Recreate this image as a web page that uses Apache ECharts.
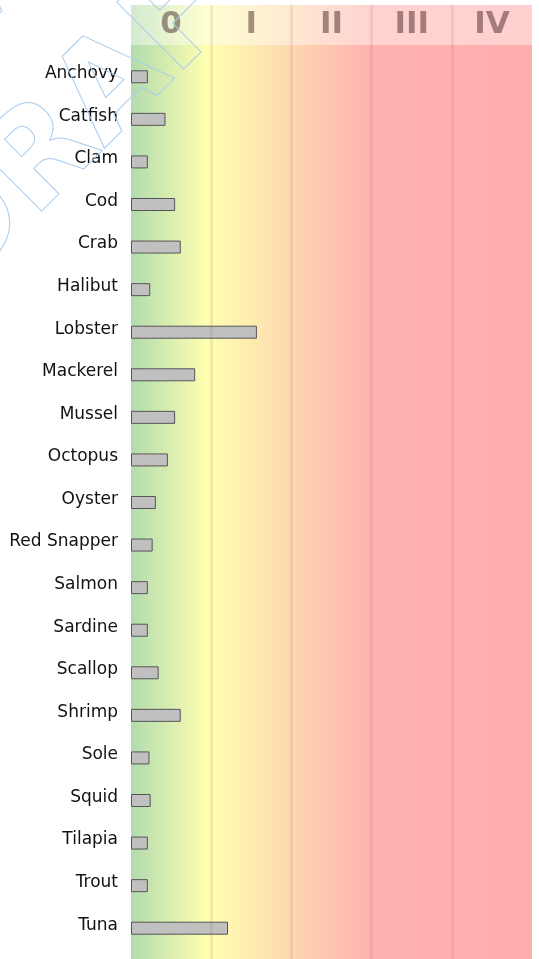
<!DOCTYPE html>
<html>
<head>
<meta charset="utf-8">
<script src="https://cdn.jsdelivr.net/npm/echarts@6/dist/echarts.min.js"></script>
<style>html,body{margin:0;padding:0;background:#fff}#c{width:539px;height:959px}</style>
</head>
<body>
<div id="c"></div>
<script>
const categories = ['Anchovy','Catfish','Clam','Cod','Crab','Halibut','Lobster','Mackerel','Mussel','Octopus','Oyster','Red Snapper','Salmon','Sardine','Scallop','Shrimp','Sole','Squid','Tilapia','Trout','Tuna'];
const values = [0.21,0.43,0.21,0.55,0.62,0.24,1.57,0.80,0.55,0.46,0.31,0.27,0.21,0.21,0.345,0.62,0.23,0.245,0.21,0.21,1.21];
const bandLabels = ['0','I','II','III','IV'];
const bandEdges = [1,2,3,4];
const axisMax = 5;

const chart = echarts.init(document.getElementById('c'), null, {renderer:'canvas'});
const L = 131, R = 7, TOP = 5, HEADER = 40, H = 959;
const headerFrac = 1 - HEADER / (H - TOP);
const wmStyle = {text:'DRAFT', fontSize:130, fontWeight:'bold', fontFamily:'DejaVu Sans',
  fill:'none', stroke:'#a9cdef', lineWidth:1, align:'center', verticalAlign:'middle'};
const option = {
  animation: false,
  grid: [
    {left: L, right: R, top: TOP, bottom: 0, show: true, borderWidth: 0,
     backgroundColor: new echarts.graphic.LinearGradient(0,0,1,0,[
       {offset:0, color:'rgb(178,219,174)'},
       {offset:0.19, color:'rgb(255,255,176)'},
       {offset:0.4, color:'rgb(253,216,176)'},
       {offset:0.6, color:'rgb(255,178,176)'},
       {offset:1, color:'rgb(255,174,174)'}
     ])},
    {left: L, right: R, top: 55.5, bottom: 9.5}
  ],
  xAxis: [
    {gridIndex:0, type:'value', min:0, max:axisMax, interval:1, show:false},
    {gridIndex:0, type:'category', data: bandLabels, position:'top', boundaryGap:true, z:10,
     axisLine:{show:false}, axisTick:{show:false}, splitLine:{show:false},
     axisLabel:{inside:true, margin:20, verticalAlign:'middle', fontSize:31, fontWeight:'bold',
       fontFamily:'DejaVu Sans', color:'rgba(50,20,20,0.45)'}},
    {gridIndex:1, type:'value', min:0, max:axisMax, show:false}
  ],
  yAxis: [
    {gridIndex:0, type:'value', min:0, max:1, show:false},
    {gridIndex:1, type:'category', data: categories, inverse:true,
     axisLine:{show:false}, axisTick:{show:false},
     axisLabel:{fontSize:17, fontFamily:'DejaVu Sans', color:'#111', margin:13,
       verticalAlign:'bottom', lineHeight:6}}
  ],
  series: [
    {type:'line', xAxisIndex:0, yAxisIndex:0, data:[], silent:true,
     markLine:{symbol:'none', silent:true, label:{show:false},
       lineStyle:{type:'solid', width:3, color:'rgba(130,100,70,0.12)'},
       data: bandEdges.map(v=>({xAxis:v}))},
     markArea:{silent:true, itemStyle:{color:'rgba(255,255,255,0.42)'},
       data:[[{xAxis:0, yAxis:headerFrac},{xAxis:axisMax, yAxis:1}]]}},
    {type:'bar', xAxisIndex:2, yAxisIndex:1, data: values, barWidth:13,
     itemStyle:{color:'#c0c0c0', borderColor:'#555', borderWidth:1}}
  ],
  graphic: [
    {type:'text', z:100, x:105, y:100, rotation:Math.PI/4, silent:true, style:wmStyle},
    {type:'text', z:100, x:-15, y:-20, rotation:Math.PI/4, silent:true, style:wmStyle}
  ]
};
chart.setOption(option);
</script>
</body>
</html>
